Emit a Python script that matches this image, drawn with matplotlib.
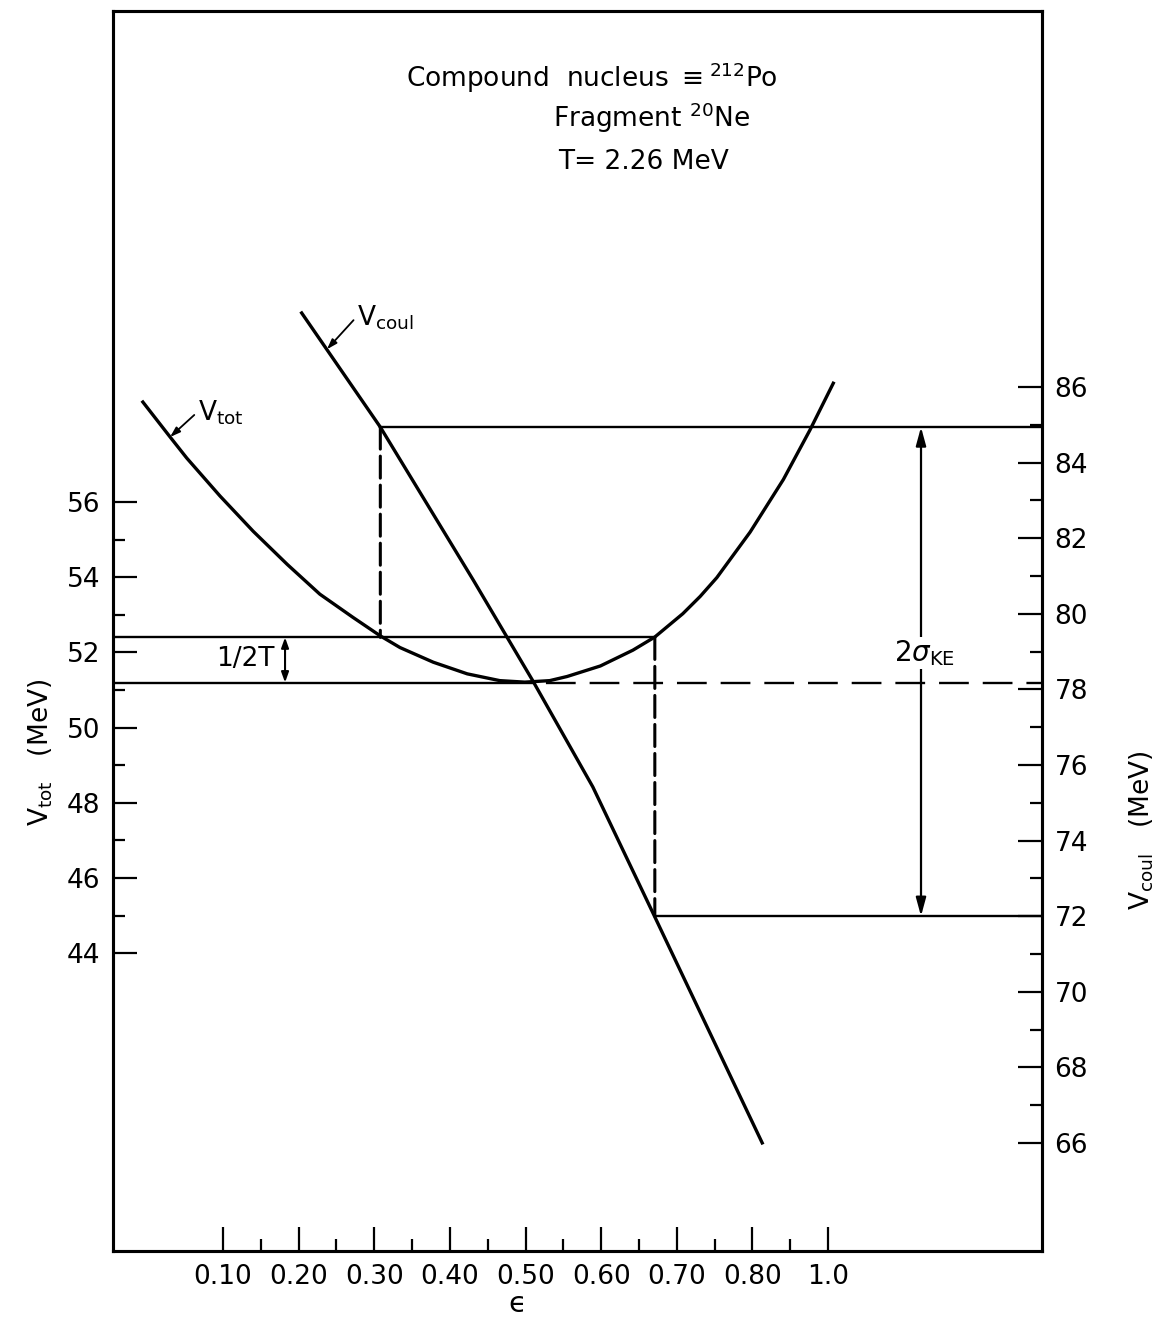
import matplotlib
matplotlib.use('Agg')
import matplotlib.pyplot as plt
from matplotlib.patches import ConnectionPatch

plt.rcParams['font.family'] = ['DejaVu Sans']
plt.rcParams['mathtext.fontset'] = 'dejavusans'

# ---------------- data ----------------
eps_tot = [-0.006, 0.030, 0.052, 0.096, 0.140, 0.185, 0.228, 0.272, 0.308, 0.334,
           0.378, 0.423, 0.466, 0.499, 0.532, 0.555, 0.599, 0.642, 0.671, 0.708,
           0.731, 0.753, 0.797, 0.841, 0.876, 0.907]
v_tot = [58.66, 57.73, 57.17, 56.16, 55.22, 54.34, 53.55, 52.93, 52.44, 52.13,
         51.74, 51.43, 51.25, 51.21, 51.25, 51.36, 51.64, 52.06, 52.41, 53.03,
         53.49, 53.99, 55.20, 56.60, 57.91, 59.16]

eps_coul = [0.204, 0.308, 0.431, 0.509, 0.589, 0.671, 0.813]
v_coul = [87.96, 84.94, 80.89, 78.25, 75.42, 71.98, 66.00]

eps_ticks = [0.10, 0.20, 0.30, 0.40, 0.50, 0.60, 0.70, 0.80, 0.90]
eps_ticklabels = ['0.10', '0.20', '0.30', '0.40', '0.50', '0.60', '0.70', '0.80', '1.0']
eps_minor = [0.15, 0.25, 0.35, 0.45, 0.55, 0.65, 0.75, 0.85]
vtot_ticks = [44, 46, 48, 50, 52, 54, 56]
vtot_minor = [45, 47, 49, 51, 53, 55]
vcoul_ticks = [66, 68, 70, 72, 74, 76, 78, 80, 82, 84, 86]
vcoul_minor = [67, 69, 71, 73, 75, 77, 79, 81, 83, 85]

eps_a = 0.308      # left edge of the KE window
eps_b = 0.671      # right edge of the KE window
vtot_min = 51.2
vtot_half = 52.4   # Vmin + T/2
vcoul_hi = 84.94
vcoul_lo = 72.0
eps_cross = 0.509  # V_coul crossing of the minimum line
eps_halfT = 0.182
eps_sigma = 1.023

# ---------------- figure ----------------
W, H = 1162, 1320
fig = plt.figure(figsize=(W / 100, H / 100), dpi=100)
ax = fig.add_axes([113 / W, 1 - 1251 / H, 929 / W, 1240 / H])
ax.set_xlim(-0.0455, 1.183)
ax.set_ylim(36.08, 69.06)
ax2 = ax.twinx()
ax2.set_ylim(63.14, 95.95)

for a in (ax, ax2):
    for s in a.spines.values():
        s.set_linewidth(2.2)

fs = 19
ax.set_xticks(eps_ticks)
ax.set_xticklabels(eps_ticklabels)
ax.set_xticks(eps_minor, minor=True)
ax.set_yticks(vtot_ticks)
ax.set_yticks(vtot_minor, minor=True)
ax.tick_params(axis='both', which='major', direction='in', length=17, width=1.6,
               labelsize=fs, pad=9)
ax.tick_params(axis='both', which='minor', direction='in', length=8.5, width=1.6)
ax.tick_params(axis='y', which='both', right=False)
ax.tick_params(axis='x', which='both', top=False)

ax2.set_yticks(vcoul_ticks)
ax2.set_yticks(vcoul_minor, minor=True)
ax2.tick_params(axis='y', which='major', direction='in', length=17, width=1.6,
                labelsize=fs, pad=9)
ax2.tick_params(axis='y', which='minor', direction='in', length=8.5, width=1.6)

# curves
ax.plot(eps_tot, v_tot, color='k', lw=2.4, solid_joinstyle='round')
ax2.plot(eps_coul, v_coul, color='k', lw=2.4, solid_joinstyle='round')

x0, x1 = ax.get_xlim()
# horizontal lines
ax.plot([x0, eps_b], [vtot_half, vtot_half], color='k', lw=1.7)
ax.plot([x0, eps_cross], [vtot_min, vtot_min], color='k', lw=1.7)
ax.plot([eps_cross, x1], [vtot_min, vtot_min], color='k', lw=1.7,
        linestyle=(12.6, (12.6, 5.9)))
ax2.plot([eps_a, x1], [vcoul_hi, vcoul_hi], color='k', lw=1.7)
ax2.plot([eps_b, x1], [vcoul_lo, vcoul_lo], color='k', lw=1.7)

# vertical dashed connectors
for (xa, ya, ca), (xb, yb, cb) in [((eps_a, vcoul_hi, ax2), (eps_a, vtot_half, ax)),
                                    ((eps_b, vtot_half, ax), (eps_b, vcoul_lo, ax2))]:
    con = ConnectionPatch(xyA=(xa, ya), coordsA=ca.transData,
                          xyB=(xb, yb), coordsB=cb.transData,
                          color='k', lw=2.2, linestyle=(0, (7.2, 2.3)))
    fig.add_artist(con)

# double arrows
ax.annotate('', xy=(eps_halfT, vtot_min), xytext=(eps_halfT, vtot_half),
            arrowprops=dict(arrowstyle='<|-|>,head_length=0.5,head_width=0.18',
                            mutation_scale=12, lw=1.5, color='k',
                            shrinkA=0, shrinkB=0))
ax2.annotate('', xy=(eps_sigma, vcoul_lo), xytext=(eps_sigma, vcoul_hi),
             arrowprops=dict(arrowstyle='<|-|>,head_length=0.55,head_width=0.15',
                             mutation_scale=20, lw=1.6, color='k',
                             shrinkA=0, shrinkB=0))

ax.text(0.130, 51.82, '1/2T', fontsize=fs, ha='center', va='center')
ax2.text(1.028, 78.96, r'2$\sigma_{\rm KE}$', fontsize=fs + 1, ha='center',
         va='center', zorder=6,
         bbox=dict(facecolor='white', edgecolor='none', pad=1.0))

# curve labels with leader arrows
ax.annotate(r'V$_{\rm tot}$', xy=(0.030, 57.73), xytext=(0.067, 58.37),
            fontsize=fs, ha='left', va='center',
            arrowprops=dict(arrowstyle='-|>,head_length=0.6,head_width=0.2',
                            mutation_scale=10, lw=1.3, color='k',
                            shrinkA=1, shrinkB=0, relpos=(0, 0.55)))
ax2.annotate(r'V$_{\rm coul}$', xy=(0.2375, 87.0), xytext=(0.2775, 87.84),
             fontsize=fs, ha='left', va='center',
             arrowprops=dict(arrowstyle='-|>,head_length=0.6,head_width=0.2',
                             mutation_scale=10, lw=1.3, color='k',
                             shrinkA=1, shrinkB=0, relpos=(0, 0.55)))

# axis labels
ax.set_xlabel('\u03f5', fontsize=fs + 2)
ax.xaxis.set_label_coords((517 - 113) / 929, (1251 - 1290) / 1240)
ax.set_ylabel(r'V$_{\rm tot}$   (MeV)', fontsize=fs)
ax.yaxis.set_label_coords((55 - 113) / 929, (1251 - 752) / 1240)
ax2.set_ylabel(r'V$_{\rm coul}$   (MeV)', fontsize=fs)
ax2.yaxis.set_label_coords((1128 - 113) / 929, (1251 - 830) / 1240)

# annotation block
fig.text(406 / W, 1 - 87 / H, r'Compound  nucleus $\equiv^{212}$Po', fontsize=fs,
         ha='left', va='baseline')
fig.text(553 / W, 1 - 127 / H, r'Fragment $^{20}$Ne', fontsize=fs,
         ha='left', va='baseline')
fig.text(558 / W, 1 - 169 / H, 'T= 2.26 MeV', fontsize=fs,
         ha='left', va='baseline')

fig.savefig('out.png', dpi=100, facecolor='white')
